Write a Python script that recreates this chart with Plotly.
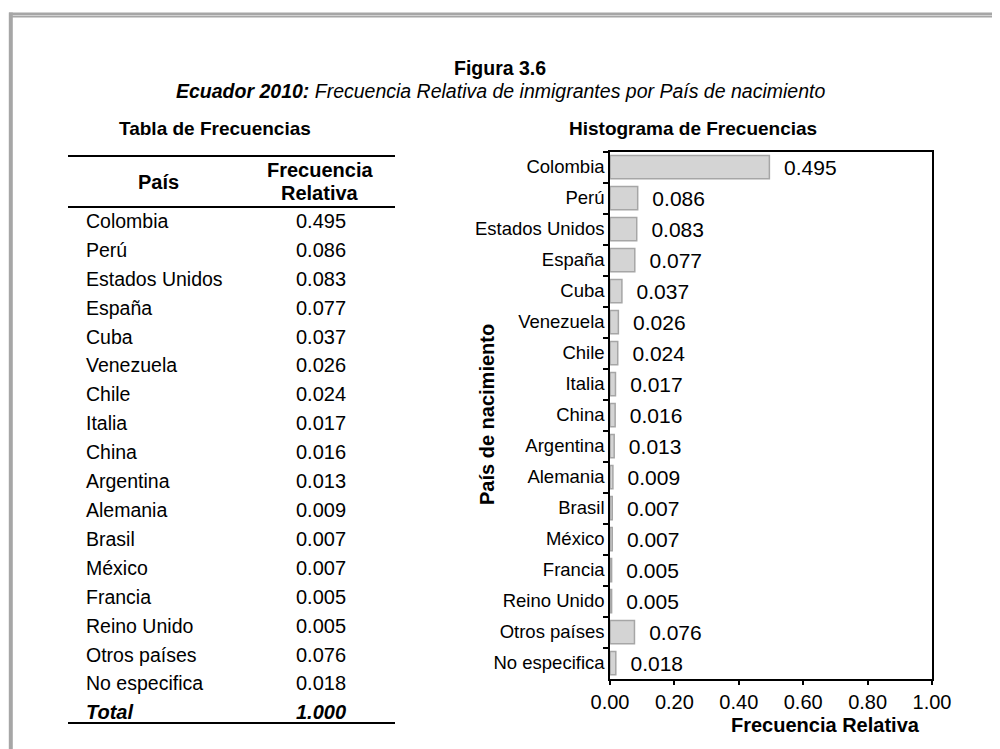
import plotly.graph_objs as go

# datos de la figura
paises = ["Colombia", "Perú", "Estados Unidos", "España", "Cuba", "Venezuela",
          "Chile", "Italia", "China", "Argentina", "Alemania", "Brasil",
          "México", "Francia", "Reino Unido", "Otros países", "No especifica"]
frecuencia = [0.495, 0.086, 0.083, 0.077, 0.037, 0.026, 0.024, 0.017, 0.016,
              0.013, 0.009, 0.007, 0.007, 0.005, 0.005, 0.076, 0.018]
total = "1.000"
x_ticks = [0.0, 0.2, 0.4, 0.6, 0.8, 1.0]

W, H = 1000, 749
OFF = 8  # margen del body de la pagina
FONT = "Arial, Liberation Sans, sans-serif"


def px(x):
    return (x - OFF) / W


def py(y):
    return 1 - (y - OFF) / H


fig = go.Figure()
fig.add_trace(go.Bar(
    y=paises,
    x=frecuencia,
    orientation='h',
    marker=dict(color='#d4d4d4', line=dict(color='#a6a6a6', width=1.5)),
    text=["\u00a0\u00a0" + f"{v:.3f}" for v in frecuencia],
    textposition='outside',
    constraintext='none',
    cliponaxis=False,
    textfont=dict(family=FONT, size=21, color='black'),
    showlegend=False,
))

fig.update_layout(
    width=W, height=H,
    margin=dict(l=0, r=0, t=0, b=0, autoexpand=False),
    paper_bgcolor='white', plot_bgcolor='white',
    font=dict(family=FONT, color='black'),
    bargap=0.25,
    xaxis=dict(domain=[px(610), px(932)], range=[0, 1], tickvals=x_ticks,
               tickformat='.2f', ticks='outside', ticklen=5, tickwidth=1.5,
               tickcolor='black', showgrid=False, zeroline=False, automargin=False,
               showline=True, mirror=True, linecolor='black', linewidth=1.5,
               tickfont=dict(size=20, family=FONT)),
    yaxis=dict(domain=[py(678.5), py(151.5)], autorange='reversed',
               tickson='boundaries', ticks='outside', ticklen=5, tickwidth=1.5,
               tickcolor='black', showgrid=False, zeroline=False, automargin=False,
               showline=True, mirror=True, linecolor='black', linewidth=1.5,
               tickfont=dict(size=18.5, family=FONT)),
)

anns = []
shapes = []


def txt(x, y, s, size=20, xanchor='center', angle=0):
    anns.append(dict(x=px(x), y=py(y), xref='paper', yref='paper', text=s,
                     showarrow=False, xanchor=xanchor, yanchor='middle',
                     textangle=angle, font=dict(size=size, family=FONT, color='black')))


def hline(x0, x1, y, color='black', width=2):
    shapes.append(dict(type='line', xref='paper', yref='paper', x0=px(x0), x1=px(x1),
                       y0=py(y), y1=py(y), line=dict(color=color, width=width)))


# marco gris
hline(9, 1010, 14, color='#a6a6a6', width=3)
hline(11, 1010, 16.8, color='#a6a6a6', width=1.5)
shapes.append(dict(type='line', xref='paper', yref='paper', x0=px(10.8), x1=px(10.8),
                   y0=py(12.5), y1=py(760), line=dict(color='#a6a6a6', width=4)))

# titulos
txt(500, 68, "<b>Figura 3.6</b>", size=19.5)
txt(500, 91, "<b><i>Ecuador 2010:</i></b><i> Frecuencia Relativa de inmigrantes por País de nacimiento</i>", size=19.5)
txt(215, 129, "<b>Tabla de Frecuencias</b>", size=19)
txt(693, 129, "<b>Histograma de Frecuencias</b>", size=19)

# tabla
hline(68, 395, 156)
hline(68, 395, 207)
hline(68, 395, 723)
txt(158, 182, "<b>País</b>", size=20)
txt(320, 170, "<b>Frecuencia</b>", size=20)
txt(320, 193, "<b>Relativa</b>", size=20)
y0, paso = 221, 28.9
for i, (p, v) in enumerate(zip(paises, frecuencia)):
    y = y0 + i * paso
    txt(84, y, p, size=19.5, xanchor='left')
    txt(321, y, f"{v:.3f}", size=20)
y = y0 + len(paises) * paso
txt(84, y, "<b><i>Total</i></b>", size=20, xanchor='left')
txt(321, y, f"<b><i>{total}</i></b>", size=20)

# titulos de ejes
txt(487, 415, "<b>País de nacimiento</b>", size=20, angle=-90)
txt(825, 725, "<b>Frecuencia Relativa</b>", size=20)

fig.update_layout(annotations=anns, shapes=shapes)
fig.write_html("out.html")
